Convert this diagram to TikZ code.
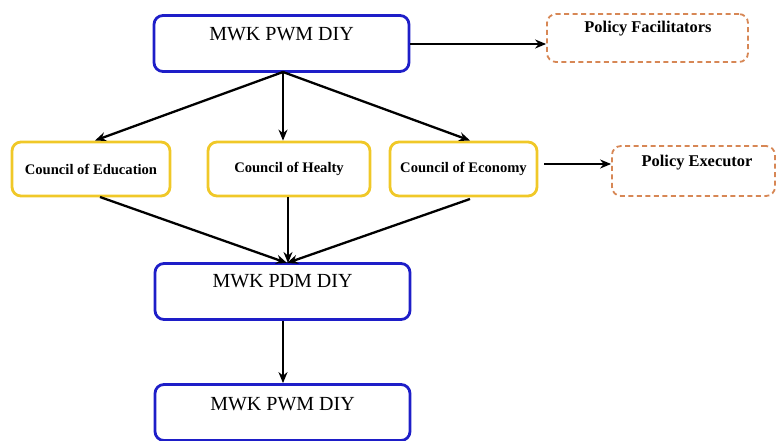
\documentclass[tikz,border=0pt]{standalone}
\usepackage{fontspec}
\setmainfont{Liberation Serif}
\usetikzlibrary{arrows.meta}
\definecolor{bbox}{RGB}{30,30,200}
\definecolor{ybox}{RGB}{240,200,40}
\definecolor{obox}{RGB}{215,135,85}
\tikzset{
  bluebox/.style={draw=bbox, line width=2.8pt, rounded corners=9pt, minimum width=255pt, minimum height=56pt, inner sep=0pt},
  yellowbox/.style={draw=ybox, line width=2.8pt, rounded corners=9pt, minimum height=54pt, inner sep=0pt, font=\bfseries\fontsize{14.6}{16}\selectfont},
  dashbox/.style={draw=obox, line width=1.8pt, dash pattern=on 5pt off 3.5pt, rounded corners=9pt, inner sep=0pt},
  toptext/.style={font=\fontsize{20}{23}\selectfont, inner sep=0pt},
  smalltext/.style={font=\bfseries\fontsize{16.4}{18}\selectfont, inner sep=0pt},
  conn/.style={-{Stealth[length=11pt,width=9pt]}, line width=2.3pt, black}
}
\begin{document}
\begin{tikzpicture}[x=1pt,y=-1pt]
\useasboundingbox (0,0) rectangle (777,441);
% blue boxes
\node[bluebox] (top) at (281.5,43.5) {};
\node[toptext] (toptxt) at (281.5,34) {MWK PWM DIY};
\node[bluebox] (mid) at (282.5,291.5) {};
\node[toptext] (midtxt) at (282.5,281) {MWK PDM DIY};
\node[bluebox] (bot) at (282.5,412.5) {};
\node[toptext] (bottxt) at (282.5,404) {MWK PWM DIY};
% councils
\node[yellowbox, minimum width=158pt] (edu) at (91,169) {Council of Education};
\node[yellowbox, minimum width=162pt] (hea) at (289,169) {Council of Healty};
\node[yellowbox, minimum width=147pt] (eco) at (463.5,169) {Council of Economy};
% dashed boxes
\node[dashbox, minimum width=201pt, minimum height=48pt] (fac) at (647.5,38) {};
\node[smalltext] (factxt) at (648,29) {Policy Facilitators};
\node[dashbox, minimum width=163pt, minimum height=50pt] (exe) at (693.5,171) {};
\node[smalltext] (exetxt) at (697,163) {Policy Executor};
% connectors
\coordinate (tb) at (283,72);
\draw[conn] (top.east |- 0,44) -- (fac.west |- 0,44);
\draw[conn] (tb) -- (95,140.5);
\draw[conn] (tb) -- (tb |- hea.north);
\draw[conn] (tb) -- (470,140.5);
\draw[conn] (eco.east |- 0,164) ++(6,0) -- (exe.west |- 0,164);
\coordinate (mt) at (287,263);
\draw[conn] (100,197) -- (mt);
\draw[conn] (288,197) -- (288,263);
\draw[conn] (470,199) -- (mt);
\draw[conn] (mid.south -| 283,0) -- (bot.north -| 283,0);
\end{tikzpicture}
\end{document}
